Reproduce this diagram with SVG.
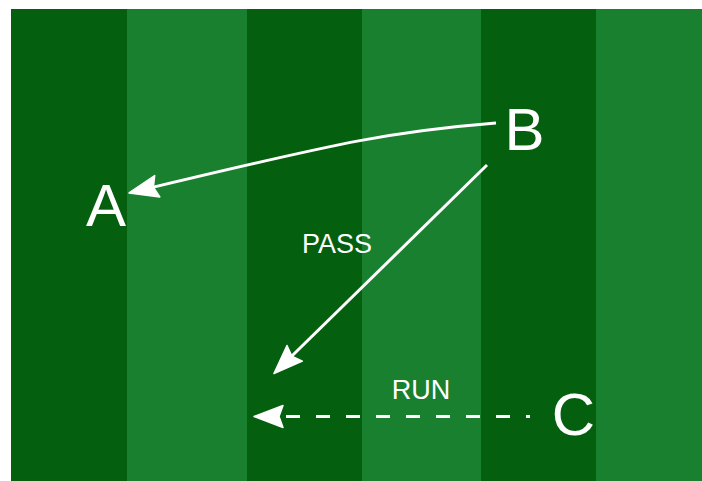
<svg xmlns="http://www.w3.org/2000/svg" width="702" height="481" viewBox="0 0 702 481">
  <style>
    .dark { fill: #04600e; }
    .light { fill: #18802f; }
    .big { font-family: "Liberation Sans", Arial, sans-serif; font-size: 60px; fill: #ffffff; text-anchor: middle; }
    .lbl { font-family: "Liberation Sans", Arial, sans-serif; font-size: 27px; fill: #ffffff; text-anchor: middle; }
    .edge { fill: none; stroke: #ffffff; stroke-width: 3; }
  </style>
  <defs>
    <marker id="arrow" markerUnits="userSpaceOnUse" markerWidth="32" markerHeight="26" viewBox="-1 -1 32 26" refX="5" refY="11" orient="auto" overflow="visible">
      <path d="M0,0 L29,11 L0,22 L4,11 Z" fill="#ffffff" stroke="#ffffff" stroke-width="1.5" stroke-linejoin="round"/>
    </marker>
  </defs>
  <rect x="0" y="0" width="702" height="481" fill="#ffffff"/>
  <g id="field">
    <rect class="dark" x="11" y="9" width="116" height="472"/>
    <rect class="light" x="127" y="9" width="120" height="472"/>
    <rect class="dark" x="247" y="9" width="115" height="472"/>
    <rect class="light" x="362" y="9" width="119" height="472"/>
    <rect class="dark" x="481" y="9" width="115" height="472"/>
    <rect class="light" x="596" y="9" width="106" height="472"/>
  </g>
  <g id="connectors">
    <path class="edge" d="M496,123 C396,131 347.8,140.6 152.4,187.4" marker-end="url(#arrow)"/>
    <path class="edge" d="M487,165 L291.1,356.8" marker-end="url(#arrow)"/>
    <path class="edge" d="M530,416.5 L278,416.5" stroke-dasharray="14 16" stroke-dashoffset="10" marker-end="url(#arrow)"/>
    <text class="lbl" x="337" y="253">PASS</text>
    <text class="lbl" x="421" y="399">RUN</text>
  </g>
  <g id="node-A"><text class="big" x="106" y="226">A</text></g>
  <g id="node-B"><text class="big" x="524.5" y="150">B</text></g>
  <g id="node-C"><text class="big" x="573.5" y="435">C</text></g>
</svg>
